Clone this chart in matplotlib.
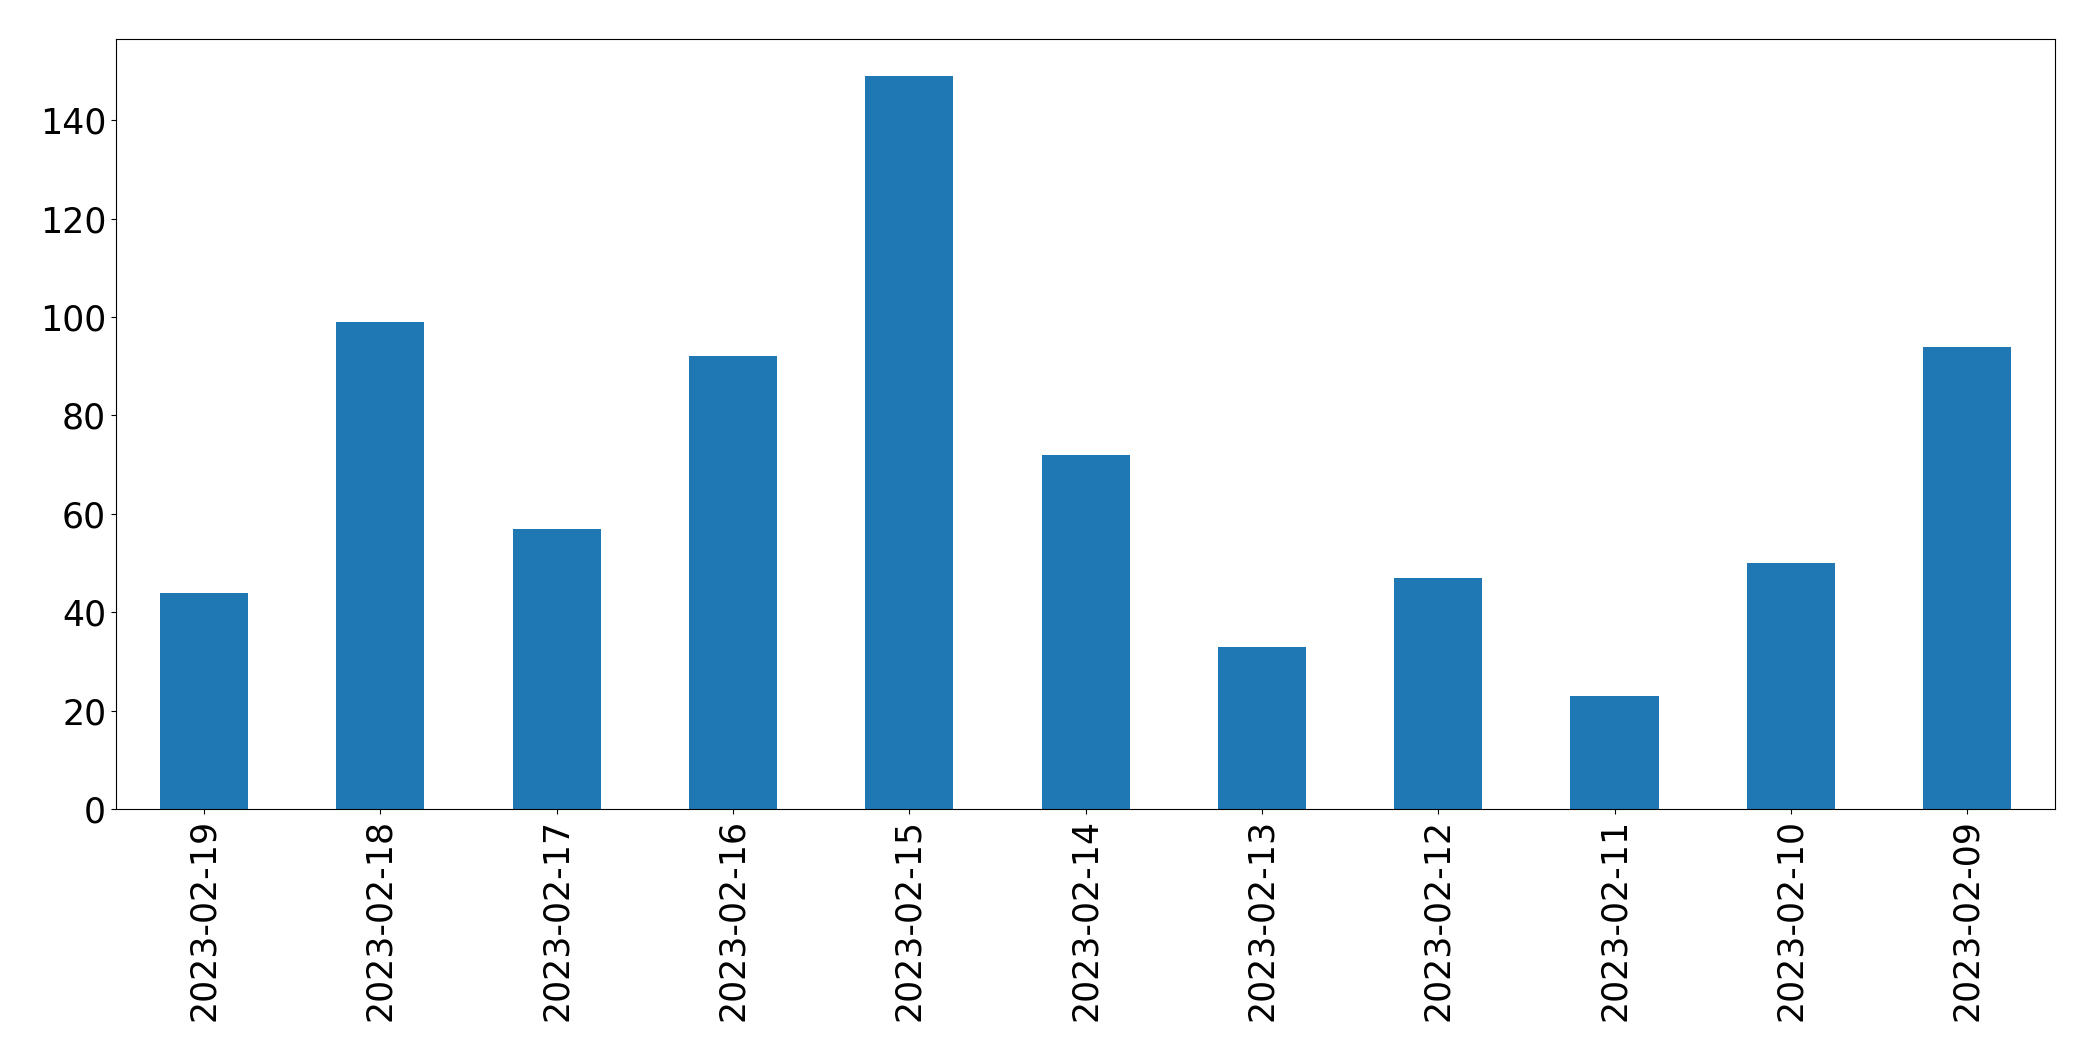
import matplotlib
matplotlib.use("Agg")
import matplotlib.pyplot as plt
import pandas as pd

dates = ["2023-02-19", "2023-02-18", "2023-02-17", "2023-02-16", "2023-02-15",
         "2023-02-14", "2023-02-13", "2023-02-12", "2023-02-11", "2023-02-10",
         "2023-02-09"]
counts = [44, 99, 57, 92, 149, 72, 33, 47, 23, 50, 94]


def main():
    s = pd.Series(counts, index=dates)

    fig, ax = plt.subplots(figsize=(20.93, 10.61), dpi=100)
    fig.subplots_adjust(left=0.0554, right=0.982, top=0.963, bottom=0.2375)
    s.plot(kind="bar", ax=ax, fontsize=25, color="#1f77b4")

    fig.savefig("out.png", dpi=100)


if __name__ == "__main__":
    main()
